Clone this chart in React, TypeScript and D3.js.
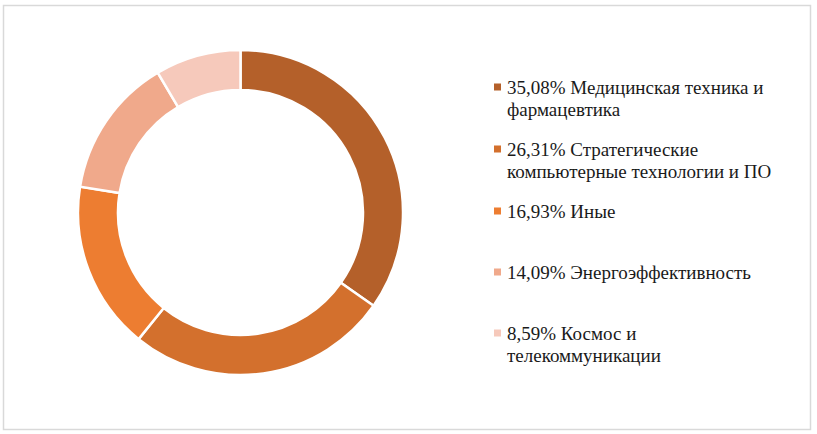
import React from "react";
import * as d3 from "d3";

const values = [35.08, 26.31, 16.93, 14.09, 8.59];
const labels = ["35,08%", "26,31%", "16,93%", "14,09%", "8,59%"];
const names = [
  ["Медицинская техника и", "фармацевтика"],
  ["Стратегические", "компьютерные технологии и ПО"],
  ["Иные"],
  ["Энергоэффективность"],
  ["Космос и", "телекоммуникации"],
];
const colors = ["#b4602a", "#d3702d", "#ed7d31", "#f0a98b", "#f6c9bb"];
const legendY = [87, 149, 211, 272, 333];
const FONT = "'Liberation Serif', 'DejaVu Serif', 'Times New Roman', Times, serif";

export default function App() {
  const W = 817, H = 434;
  const cx = 240.5, cy = 212.5, rOuter = 162.5, rInner = 122.5;
  const pie = d3.pie<number>().sort(null).value((d) => d)(values);
  const arc = d3.arc<d3.PieArcDatum<number>>().innerRadius(rInner).outerRadius(rOuter);
  return (
    <svg width={W} height={H} style={{ position: "absolute", left: 0, top: 0 }}>
      <rect x={3.5} y={5.5} width={807} height={424} fill="#fff" stroke="#d9d9d9" strokeWidth={1.5} />
      <g transform={`translate(${cx},${cy})`}>
        {pie.map((p, i) => (
          <path key={i} d={arc(p) || ""} fill={colors[i]} stroke="#fff" strokeWidth={2.5} />
        ))}
      </g>
      {values.map((v, i) => (
        <g key={i}>
          <rect x={494} y={legendY[i] - 3.5} width={7} height={7} fill={colors[i]} />
          {names[i].map((line, j) => (
            <text
              key={j}
              x={507}
              y={legendY[i] + 6.5 + j * 22}
              fill="#1a1a1a"
              style={{ fontFamily: FONT, fontSize: "19px" }}
            >
              {j === 0 ? `${labels[i]} ${line}` : line}
            </text>
          ))}
        </g>
      ))}
    </svg>
  );
}
